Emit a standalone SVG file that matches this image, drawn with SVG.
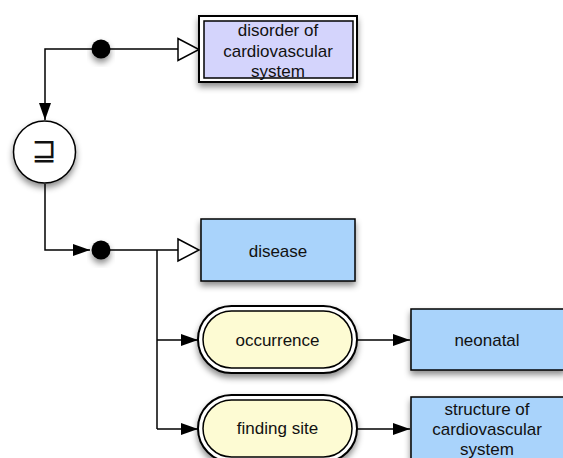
<svg xmlns="http://www.w3.org/2000/svg" width="563" height="458" viewBox="0 0 563 458">
<style>
.ln{fill:none;stroke:#000;stroke-width:1.5}
.t{font-family:"Liberation Sans",Arial,sans-serif;font-size:17px;fill:#111;text-anchor:middle}
.box{fill:#a9d3fb;stroke:#000;stroke-width:1.5}
.pillo{fill:#fff;stroke:#000;stroke-width:2}
.pilli{fill:#fdfbd3;stroke:#000;stroke-width:1.5}
.sh{filter:url(#shadow)}
</style>
<defs>
<filter id="shadow" x="-20%" y="-20%" width="140%" height="160%">
<feDropShadow dx="0" dy="4" stdDeviation="3" flood-color="#000" flood-opacity="0.45"/>
</filter>
<marker id="fa" markerWidth="18" markerHeight="13" refX="17" refY="6.5" orient="auto" markerUnits="userSpaceOnUse">
<path d="M0,0.5 L17,6.5 L0,12.5 Z" fill="#000"/>
</marker>
</defs>
<g id="connectors">
<path class="ln" d="M178,49 H45 V120" marker-end="url(#fa)"/>
<path class="ln" d="M45,184 V250 H90" marker-end="url(#fa)"/>
<path class="ln" d="M101,250 H178"/>
<path class="ln" d="M157,250 V429"/>
<path class="ln" d="M157,340 H198" marker-end="url(#fa)"/>
<path class="ln" d="M157,429 H198" marker-end="url(#fa)"/>
<path class="ln" d="M357,340 H410" marker-end="url(#fa)"/>
<path class="ln" d="M357,429 H410" marker-end="url(#fa)"/>
<path d="M178,38.5 L199,49.5 L178,60.5 Z" fill="#fff" stroke="#000" stroke-width="1.5"/>
<path d="M178,239 L199,250 L178,261 Z" fill="#fff" stroke="#000" stroke-width="1.5"/>
</g>
<g id="dot1"><circle class="sh" cx="101" cy="49" r="9.5" fill="#000"/></g>
<g id="dot2"><circle class="sh" cx="101" cy="250" r="9.5" fill="#000"/></g>
<g id="exists">
<circle class="sh" cx="44.5" cy="152" r="31" fill="#fff" stroke="#000" stroke-width="1.5"/>
<text x="44" y="160" class="t" style="font-family:'DejaVu Sans',sans-serif;font-size:30px">⊒</text>
</g>
<g id="disorder">
<rect class="sh" x="199" y="16" width="158" height="66" fill="#fff" stroke="#000" stroke-width="2"/>
<rect x="204" y="21" width="149" height="57" fill="#d4d4fc" stroke="#000" stroke-width="1.5"/>
<text class="t" x="278" y="36">disorder of</text>
<text class="t" x="278" y="57">cardiovascular</text>
<text class="t" x="278" y="77">system</text>
</g>
<g id="disease">
<rect class="box sh" x="201" y="219" width="154" height="62"/>
<text class="t" x="278" y="257">disease</text>
</g>
<g id="occurrence">
<rect class="pillo sh" x="198" y="306" width="159" height="67" rx="33.5"/>
<rect class="pilli" x="203" y="311" width="149" height="57" rx="28.5"/>
<text class="t" x="277.5" y="346">occurrence</text>
</g>
<g id="finding">
<rect class="pillo sh" x="198" y="395" width="159" height="67" rx="33.5"/>
<rect class="pilli" x="203" y="400" width="149" height="57" rx="28.5"/>
<text class="t" x="277.5" y="434">finding site</text>
</g>
<g id="neonatal">
<rect class="box sh" x="411" y="309" width="154" height="61"/>
<text class="t" x="487" y="346">neonatal</text>
</g>
<g id="structure">
<rect class="box sh" x="411" y="397" width="154" height="70"/>
<text class="t" x="487" y="415">structure of</text>
<text class="t" x="487" y="435">cardiovascular</text>
<text class="t" x="487" y="455">system</text>
</g>
</svg>
